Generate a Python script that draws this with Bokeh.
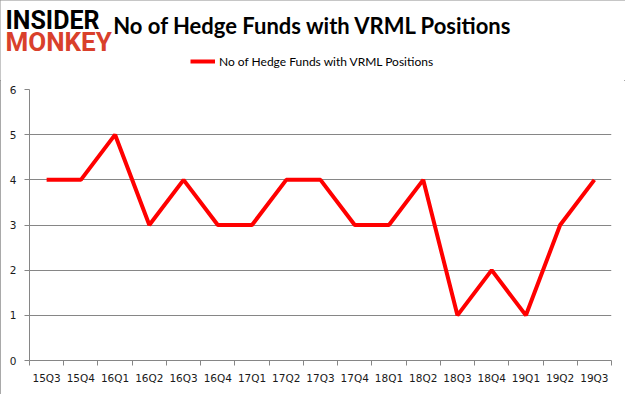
from bokeh.plotting import figure
from bokeh.models import Range1d, FixedTicker, Legend, LegendItem, Label
from bokeh.layouts import column
from bokeh.embed import file_html
from bokeh.resources import INLINE

quarters = ["15Q3", "15Q4", "16Q1", "16Q2", "16Q3", "16Q4", "17Q1", "17Q2", "17Q3",
            "17Q4", "18Q1", "18Q2", "18Q3", "18Q4", "19Q1", "19Q2", "19Q3"]
funds = [4, 4, 5, 3, 4, 3, 3, 4, 4, 3, 3, 4, 1, 2, 1, 3, 4]
y_ticks = [0, 1, 2, 3, 4, 5, 6]
title_text = "No of Hedge Funds with VRML Positions"
series_name = "No of Hedge Funds with VRML Positions"
logo_top = "INSIDER"
logo_bottom = "MONKEY"

W = 625
HEAD_H = 80
MAIN_H = 314
LINE_COLOR = "#ff0000"
LINE_W = 4

# ---------- header: logo, title, legend ----------
head = figure(width=W, height=HEAD_H, output_backend="svg", toolbar_location=None,
              x_axis_type=None, y_axis_type=None,
              x_range=Range1d(0, 1), y_range=Range1d(0, 1),
              min_border=0, min_border_left=0, min_border_right=0,
              min_border_top=0, min_border_bottom=0)
head.frame_align = False
head.outline_line_color = None
head.grid.visible = False
head.background_fill_color = "white"
head.border_fill_color = "white"

head.add_layout(Label(x=5, y=HEAD_H - 20, x_units="screen", y_units="screen",
                      text=logo_top, text_align="left", text_baseline="alphabetic",
                      text_font="Roboto", text_font_style="bold", text_font_size="25px",
                      text_color="black"))
head.add_layout(Label(x=5, y=HEAD_H - 41, x_units="screen", y_units="screen",
                      text=logo_bottom, text_align="left", text_baseline="alphabetic",
                      text_font="Roboto", text_font_style="bold", text_font_size="26px",
                      text_color="#d9402b"))
head.add_layout(Label(x=312.5, y=HEAD_H - 25, x_units="screen", y_units="screen",
                      text=title_text, text_align="center", text_baseline="alphabetic",
                      text_font="Lato", text_font_style="bold", text_font_size="22px",
                      text_color="black"))

legend_sample = head.line([0], [0], line_color=LINE_COLOR, line_width=LINE_W)
legend = Legend(items=[LegendItem(label=series_name, renderers=[legend_sample])],
                location=(190, HEAD_H - 69), orientation="horizontal",
                padding=0, margin=0, glyph_width=25, glyph_height=16,
                label_standoff=4, border_line_color=None, background_fill_alpha=0,
                label_text_font="Lato", label_text_font_size="12px",
                label_text_color="black", label_height=16)
head.add_layout(legend, "center")

# ---------- main chart ----------
xs = [i + 0.5 for i in range(len(quarters))]

p = figure(width=W, height=MAIN_H, output_backend="svg", toolbar_location=None,
           x_range=Range1d(0, len(quarters)), y_range=Range1d(0, 6),
           min_border_left=29, min_border_right=14, min_border_top=9,
           min_border_bottom=34)
p.frame_align = False
p.outline_line_color = None
p.background_fill_color = "white"
p.border_fill_color = "white"

p.line(xs, funds, line_color=LINE_COLOR, line_width=LINE_W)

xa = p.xaxis[0]
xa.ticker = FixedTicker(ticks=xs, minor_ticks=list(range(len(quarters) + 1)))
xa.major_label_overrides = {x: q for x, q in zip(xs, quarters)}
xa.major_tick_line_color = None
xa.major_tick_in = 0
xa.major_tick_out = 5
xa.minor_tick_in = 0
xa.minor_tick_out = 5
xa.minor_tick_line_color = "#868686"
xa.axis_line_color = "#868686"
xa.major_label_text_font = "DejaVu Sans"
xa.major_label_text_font_size = "10.5px"
xa.major_label_text_color = "#1a1a1a"
xa.major_label_standoff = 6

ya = p.yaxis[0]
ya.ticker = FixedTicker(ticks=y_ticks)
ya.minor_tick_line_color = None
ya.major_tick_in = 0
ya.major_tick_out = 5
ya.major_tick_line_color = "#868686"
ya.axis_line_color = "#868686"
ya.major_label_text_font = "DejaVu Sans"
ya.major_label_text_font_size = "10.5px"
ya.major_label_text_color = "#1a1a1a"
ya.major_label_standoff = 8

p.xgrid.grid_line_color = None
p.ygrid.grid_line_color = "#868686"
p.ygrid.ticker = FixedTicker(ticks=y_ticks)

layout = column(head, p, spacing=0,
                styles={"outline": "1px solid #8c8c8c", "outline-offset": "-1px"})
open("out.html", "w").write(file_html(layout, INLINE))
